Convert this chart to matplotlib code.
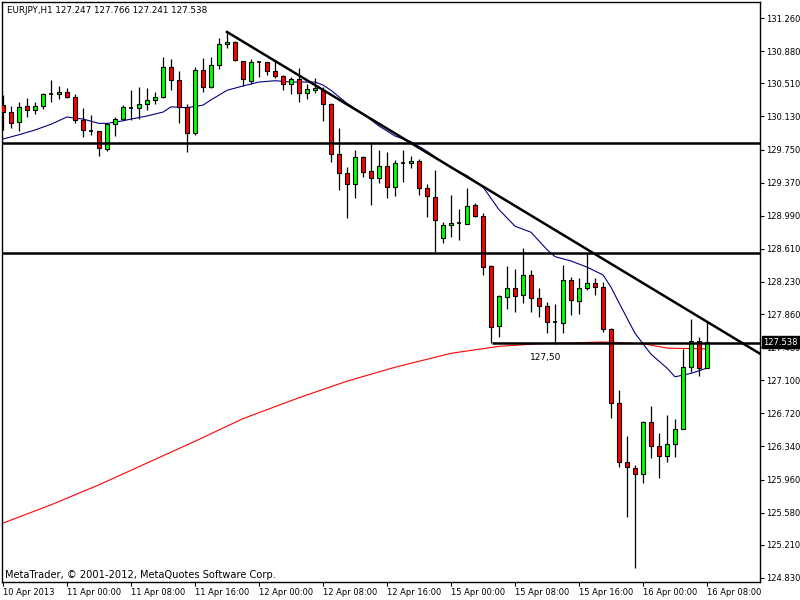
import numpy as np
import matplotlib.pyplot as plt
from matplotlib.transforms import blended_transform_factory

# EURJPY H1 candles, 10 Apr 2013 16:00 .. 16 Apr 2013 08:00
opens = [130.26, 130.18, 130.07, 130.25, 130.20, 130.25, 130.39, 130.39, 130.41, 130.35,
         130.09, 129.96, 129.96, 129.76, 130.04, 130.10, 130.23, 130.23, 130.27, 130.32,
         130.35, 130.70, 130.55, 130.24, 129.94, 130.66, 130.47, 130.72, 130.96, 130.98,
         130.77, 130.54, 130.76, 130.76, 130.65, 130.60, 130.50, 130.56, 130.40, 130.43,
         130.43, 130.27, 129.70, 129.48, 129.35, 129.66, 129.50, 129.42, 129.56, 129.32,
         129.595, 129.59, 129.62, 129.31, 129.205, 128.73, 128.88, 128.905, 128.90, 129.11,
         128.99, 128.41, 127.72, 128.06, 128.16, 128.08, 128.31, 128.045, 127.95, 127.77,
         127.76, 128.25, 128.01, 128.16, 128.22, 128.17, 127.69, 126.84, 126.16, 126.09,
         126.02, 126.62, 126.35, 126.23, 126.37, 126.54, 127.25, 127.55, 127.247]
highs = [130.38, 130.25, 130.30, 130.34, 130.30, 130.40, 130.55, 130.48, 130.46, 130.39,
         130.23, 130.15, 129.96, 130.05, 130.12, 130.26, 130.43, 130.47, 130.46, 130.41,
         130.81, 130.79, 130.65, 130.27, 130.70, 130.80, 130.81, 131.03, 131.10, 131.00,
         130.77, 130.79, 130.77, 130.76, 130.77, 130.61, 130.58, 130.69, 130.50, 130.57,
         130.47, 130.28, 130.00, 129.55, 129.745, 129.68, 129.825, 129.745, 129.72, 129.63,
         129.745, 129.68, 129.64, 129.35, 129.52, 128.92, 129.23, 129.07, 129.31, 129.14,
         129.02, 128.42, 128.08, 128.41, 128.38, 128.62, 128.37, 128.16, 128.00, 127.98,
         128.42, 128.29, 128.275, 128.56, 128.275, 128.23, 127.70, 126.99, 126.46, 126.13,
         126.63, 126.805, 126.495, 126.70, 126.66, 127.46, 127.80, 127.60, 127.766]
lows = [129.97, 130.00, 129.96, 130.12, 130.16, 130.215, 130.30, 130.33, 130.34, 130.05,
        129.89, 129.92, 129.68, 129.73, 129.905, 130.09, 130.09, 130.10, 130.20, 130.27,
        130.34, 130.43, 130.05, 129.72, 129.92, 130.41, 130.46, 130.68, 130.92, 130.77,
        130.48, 130.50, 130.58, 130.61, 130.57, 130.43, 130.39, 130.30, 130.33, 130.40,
        130.08, 129.61, 129.285, 128.96, 129.19, 129.435, 129.11, 129.37, 129.19, 129.22,
        129.38, 129.54, 129.23, 128.975, 128.57, 128.68, 128.75, 128.71, 128.90, 128.975,
        128.31, 127.53, 127.60, 127.92, 127.885, 127.99, 127.885, 127.83, 127.64, 127.52,
        127.64, 127.85, 127.86, 128.14, 128.08, 127.655, 126.67, 126.105, 125.53, 124.945,
        125.92, 126.21, 125.98, 126.16, 126.22, 126.54, 127.20, 127.15, 127.241]
closes = [130.18, 130.05, 130.24, 130.20, 130.25, 130.39, 130.39, 130.41, 130.35, 130.09,
          129.97, 129.96, 129.77, 130.04, 130.10, 130.24, 130.23, 130.27, 130.32, 130.35,
          130.70, 130.55, 130.24, 129.94, 130.66, 130.47, 130.72, 130.96, 130.98, 130.78,
          130.56, 130.76, 130.76, 130.65, 130.60, 130.50, 130.56, 130.40, 130.445, 130.46,
          130.27, 129.70, 129.48, 129.35, 129.66, 129.49, 129.42, 129.56, 129.32, 129.595,
          129.59, 129.62, 129.31, 129.22, 128.94, 128.88, 128.905, 128.90, 129.10, 128.99,
          128.40, 127.71, 128.07, 128.16, 128.07, 128.31, 128.045, 127.95, 127.77, 127.77,
          128.25, 128.02, 128.16, 128.22, 128.17, 127.69, 126.84, 126.16, 126.105, 126.02,
          126.62, 126.35, 126.23, 126.37, 126.54, 127.25, 127.55, 127.24, 127.538]

# moving averages (bar index, price)
blue_idx = [0, 2, 4, 6, 8, 9, 10, 12, 13, 15, 16, 18, 20, 21, 23, 25, 26, 28, 30, 32,
            34, 36, 39, 40, 41, 43, 45, 47, 49, 51, 53, 56, 58, 60, 61, 62, 64, 66, 68, 69,
            71, 73, 75, 76, 77, 79, 81, 83, 84, 85, 86, 88]
blue_ma = [129.87, 129.92, 129.974, 130.04, 130.124, 130.11, 130.10, 130.05, 130.05, 130.08,
           130.10, 130.135, 130.18, 130.24, 130.23, 130.26, 130.32, 130.43, 130.48, 130.525,
           130.54, 130.525, 130.525, 130.49, 130.43, 130.28, 130.16, 130.02, 129.905, 129.84,
           129.73, 129.54, 129.45, 129.32, 129.19, 129.06, 128.87, 128.80, 128.60, 128.52,
           128.47, 128.40, 128.31, 128.17, 127.99, 127.64, 127.40, 127.24, 127.14, 127.16,
           127.18, 127.24]
red_idx = [0, 6, 12, 18, 24, 30, 37, 43, 49, 56, 62, 67, 75, 80, 83, 88]
red_ma = [125.46, 125.67, 125.90, 126.15, 126.40, 126.66, 126.90, 127.09, 127.25, 127.41,
          127.49, 127.52, 127.54, 127.52, 127.47, 127.46]

levels = [129.83, 128.565]
support = 127.53
trend_x = [28, 100]
trend_y = [131.10, 127.107]

yticks = [131.260, 130.880, 130.510, 130.130, 129.750, 129.370, 128.990, 128.610, 128.230,
          127.860, 127.480, 127.100, 126.720, 126.340, 125.960, 125.580, 125.210, 124.830]
xlabels = ['10 Apr 2013', '11 Apr 00:00', '11 Apr 08:00', '11 Apr 16:00', '12 Apr 00:00',
           '12 Apr 08:00', '12 Apr 16:00', '15 Apr 00:00', '15 Apr 08:00', '15 Apr 16:00',
           '16 Apr 00:00', '16 Apr 08:00']

o = np.array(opens); h = np.array(highs); l = np.array(lows); c = np.array(closes)
idx = np.arange(len(o))

fig = plt.figure(figsize=(8, 6), dpi=100)
ax = fig.add_axes([2/800, 18/600, 758/800, 580/600])

ax.vlines(idx, l, h, color='black', lw=0.9, zorder=3)
up = c > o + 0.006
dn = c < o - 0.006
dj = ~(up | dn)
ax.bar(idx[up], (c - o)[up], bottom=o[up], width=0.56, color='#00ff00',
       edgecolor='black', lw=0.8, zorder=4)
ax.bar(idx[dn], (o - c)[dn], bottom=c[dn], width=0.56, color='#ff0000',
       edgecolor='black', lw=0.8, zorder=4)
ax.hlines(o[dj], idx[dj] - 0.3, idx[dj] + 0.3, color='black', lw=1.2, zorder=4)

ax.plot(blue_idx, blue_ma, color='#000080', lw=0.8, zorder=2)
ax.plot(red_idx, red_ma, color='#ff0000', lw=0.8, zorder=2)

for lv in levels:
    ax.axhline(lv, color='black', lw=1.8, zorder=5)
ax.hlines(support, 61.1, 100, color='black', lw=1.8, zorder=5)
ax.plot(trend_x, trend_y, color='black', lw=1.8, zorder=5)
ax.text(65.9, 127.36, '127,50', fontsize=6.5, ha='left', va='center')

ax.set_xlim(-0.125, 94.625)
ax.set_ylim(124.784, 131.444)

ax.yaxis.tick_right()
ax.set_yticks(yticks)
ax.set_yticklabels([f'{v:.3f}' for v in yticks])
ax.set_xticks(np.arange(0, 89, 8))
ax.set_xticklabels(xlabels, ha='left')
ax.tick_params(axis='both', labelsize=6, length=3, width=0.8, pad=1.5, colors='black')
for s in ax.spines.values():
    s.set_linewidth(1)

tr = blended_transform_factory(ax.transAxes, ax.transData)
ax.text(1.004, 127.538, '127.538', transform=tr, fontsize=6, color='white',
        ha='left', va='center', zorder=10, clip_on=False,
        bbox=dict(boxstyle='square,pad=0.15', fc='black', ec='black'))

ax.text(0.0066, 0.9845, 'EURJPY,H1 127.247 127.766 127.241 127.538',
        transform=ax.transAxes, fontsize=6.3, va='center', ha='left')
ax.text(0.004, 0.012, 'MetaTrader, \u00a9 2001-2012, MetaQuotes Software Corp.',
        transform=ax.transAxes, fontsize=7.1, va='center', ha='left')

fig.savefig('out.png', dpi=100)
